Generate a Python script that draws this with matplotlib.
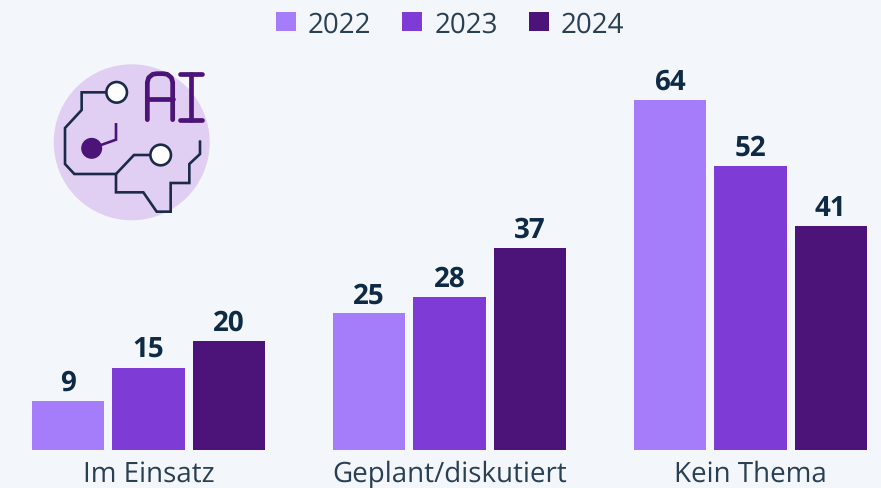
import matplotlib
matplotlib.use("Agg")
import matplotlib.pyplot as plt
import numpy as np
from matplotlib.patches import Circle

categories = ["Im Einsatz", "Geplant/diskutiert", "Kein Thema"]
years = ["2022", "2023", "2024"]
values_2022 = [9, 25, 64]
values_2023 = [15, 28, 52]
values_2024 = [20, 37, 41]

colors = ["#a57dfb", "#7e3bd6", "#4c1478"]
bg = "#f3f7fb"
W, H = 881, 489
base = 451

plt.rcParams["font.family"] = ["Open Sans", "DejaVu Sans"]
plt.rcParams["text.hinting"] = "none"

fig = plt.figure(figsize=(W / 100, H / 100), dpi=100, facecolor=bg)
ax = fig.add_axes([0, (H - base) / H, 1, base / H], facecolor="none")

x = np.arange(len(categories))
group_px = 301
bar_w = 72.5 / group_px
step = 80.3 / group_px

for i, vals in enumerate([values_2022, values_2023, values_2024]):
    bars = ax.bar(x + (i - 1) * step, vals, bar_w, color=colors[i], label=years[i])
    ax.bar_label(bars, padding=3, fontsize=20, fontweight="bold", color="#0f2a44")

ax.set_xlim(-148.5 / group_px, (W - 148.5) / group_px)
ax.set_ylim(0, base / 5.47)
ax.set_xticks(x)
ax.set_xticklabels(categories, fontsize=20, color="#2b3f52")
ax.tick_params(axis="x", length=0, pad=6.5)
ax.set_yticks([])
for s in ax.spines.values():
    s.set_visible(False)

ax.legend(
    loc="center", bbox_to_anchor=(450 / W, (base - 25) / base), ncol=3, frameon=False,
    fontsize=20, labelcolor="#2b3f52", handlelength=0.72, handleheight=0.72,
    handletextpad=0.43, columnspacing=1.12, borderpad=0,
)

# icon, drawn in pixel coordinates of the picture
icon = fig.add_axes([0, 0, 1, 1], facecolor="none")
icon.set_xlim(0, W)
icon.set_ylim(H, 0)
icon.axis("off")


def zx(p):
    a = np.array(p, dtype=float)
    return 30 + a[:, 0] / 3, 50 + a[:, 1] / 3


icon.add_patch(Circle((131.7, 143.3), 78, color="#e0cff3", lw=0))

navy = "#1c2a4a"
purple = "#4c1478"
wire = [(230, 130), (155, 130), (155, 183), (105, 237), (105, 345), (133, 375), (258, 375),
        (258, 430), (340, 430), (380, 488), (422, 488), (422, 402), (478, 402), (478, 345),
        (510, 315), (510, 278)]
branch = [(258, 375), (312, 318), (360, 318)]
stub = [(185, 298), (258, 272), (258, 226)]
for pts, c in [(wire, navy), (branch, navy), (stub, purple)]:
    px, py = zx(pts)
    icon.plot(px, py, color=c, lw=1.9, solid_joinstyle="miter")

for cx, cy in [(260, 130), (392, 318)]:
    icon.add_patch(Circle((30 + cx / 3, 50 + cy / 3), 10.3, fc="white", ec=navy, lw=1.9, zorder=3))
icon.add_patch(Circle((30 + 185 / 3, 50 + 298 / 3), 10.5, color=purple, lw=0, zorder=3))

letter_a = [(352, 212), (352, 100), (356, 86), (368, 76), (380, 74), (400, 74), (412, 76),
            (424, 86), (428, 100), (428, 212)]
bar_a = [(352, 150), (428, 150)]
i_top = [(450, 74), (515, 74)]
i_bot = [(450, 212), (515, 212)]
i_mid = [(482, 74), (482, 212)]
for pts in [letter_a, bar_a, i_top, i_bot, i_mid]:
    px, py = zx(pts)
    icon.plot(px, py, color=purple, lw=3.4, solid_capstyle="round", solid_joinstyle="round")

fig.savefig("out.png", dpi=100, facecolor=bg)
